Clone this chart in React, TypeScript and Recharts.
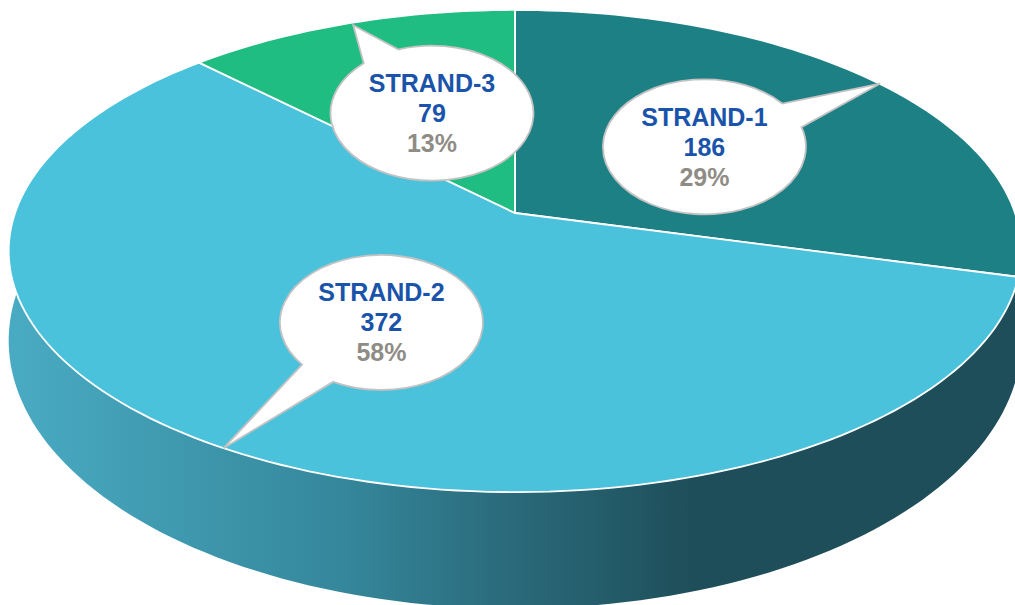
import { PieChart, Pie, Cell } from "recharts"

const strands = ["STRAND-1", "STRAND-2", "STRAND-3"]
const counts = [186, 372, 79]
const shownPercents = [29, 58, 13]
const sliceColors = ["#1d8085", "#4ac2dc", "#1fbd82"]

const rows = strands.map((name, i) => ({ name, value: counts[i], percent: shownPercents[i] }))

// the pie is tilted, so the centre of the circle is not the centre of the ellipse
const TILT = -0.1577
const TOP_DEPTH = 0.403
const WALL_DEPTH = 0.4286
const WALL_DROP = 85.3
const BUBBLE_RX = 101.5
const BUBBLE_RY = 67.5
const bubbleNudge = [[0, 2], [1.5, 0.5], [5.5, 1.5]]
const tipNudge = [[3, 1], [0, 0], [4, 2]]

const RAD = Math.PI / 180

const project = (cx: number, cy: number, r: number, angle: number, radial = 1, depth = TOP_DEPTH, drop = 0) => {
    const u = Math.cos(angle * RAD) * radial
    const v = -Math.sin(angle * RAD) * radial
    const w = 1 + TILT * v
    return { x: cx + (r * u) / w, y: (cy + drop + r * depth * v) / w }
}

const arcPoints = (start: number, end: number) => {
    const steps = Math.max(2, Math.ceil(Math.abs(end - start) / 1.5))
    const out: number[] = []
    for (let i = 0; i <= steps; i++) out.push(start + ((end - start) * i) / steps)
    return out
}

const TopSlice = (props: any) => {
    const { cx, cy, outerRadius, startAngle, endAngle, fill } = props
    const pts = arcPoints(startAngle, endAngle).map(a => project(cx, cy, outerRadius, a))
    const d = `M${cx},${cy}` + pts.map(p => `L${p.x.toFixed(1)},${p.y.toFixed(1)}`).join("") + "Z"
    return <path d={d} fill={fill} stroke="#ffffff" strokeWidth={1.8} strokeLinejoin="round" />
}

const WallSlice = (props: any) => {
    const { cx, cy, outerRadius, startAngle, endAngle } = props
    const angles = arcPoints(startAngle, endAngle)
    const upper = angles.map(a => project(cx, cy, outerRadius, a))
    const lower = angles.slice().reverse().map(a => project(cx, cy, outerRadius, a, 1, WALL_DEPTH, WALL_DROP))
    const d = [...upper, ...lower].map((p, i) => `${i ? "L" : "M"}${p.x.toFixed(1)},${p.y.toFixed(1)}`).join("") + "Z"
    return <path d={d} fill="url(#wallShade)" />
}

const Callout = (props: any) => {
    const { cx, cy, outerRadius, midAngle, index } = props
    const row = rows[index]
    const rim = project(cx, cy, outerRadius, midAngle)
    const tip = { x: rim.x + tipNudge[index][0], y: rim.y + tipNudge[index][1] }
    const mid = project(cx, cy, outerRadius, midAngle, 0.5)
    const bx = mid.x + bubbleNudge[index][0]
    const by = mid.y + bubbleNudge[index][1]
    const dir = Math.atan2((tip.y - by) / BUBBLE_RY, (tip.x - bx) / BUBBLE_RX)
    const spread = 11.5 * RAD
    const p1x = bx + BUBBLE_RX * Math.cos(dir + spread)
    const p1y = by + BUBBLE_RY * Math.sin(dir + spread)
    const p2x = bx + BUBBLE_RX * Math.cos(dir - spread)
    const p2y = by + BUBBLE_RY * Math.sin(dir - spread)
    const d = `M${p1x},${p1y}A${BUBBLE_RX},${BUBBLE_RY} 0 1 1 ${p2x},${p2y}L${tip.x},${tip.y}Z`
    const textProps = { x: bx, textAnchor: "middle" as const, fontFamily: "Liberation Sans", fontWeight: 700, fontSize: 25 }
    return (
        <g>
            <path d={d} fill="#ffffff" stroke="#c2c2c2" strokeWidth={1.8} />
            <text {...textProps} y={by - 21} fill="#1a54aa">{row.name}</text>
            <text {...textProps} y={by + 9} fill="#1a54aa">{row.value}</text>
            <text {...textProps} y={by + 39} fill="#8f8c86">{row.percent}%</text>
        </g>
    )
}

const App = () => {
    return (
        <div style={{ position: "absolute", left: 0, top: 0, width: 1015, height: 605, background: "#ffffff" }}>
            <PieChart width={1015} height={605} margin={{ top: 0, right: 0, bottom: 0, left: 0 }}>
                <defs>
                    <linearGradient id="wallShade" gradientUnits="userSpaceOnUse" x1="10" y1="0" x2="1015" y2="0">
                        <stop offset="0" stopColor="#49abc3" />
                        <stop offset="0.33" stopColor="#35879b" />
                        <stop offset="0.5" stopColor="#2a6a7b" />
                        <stop offset="0.68" stopColor="#1e4e59" />
                        <stop offset="1" stopColor="#1e4e59" />
                    </linearGradient>
                </defs>
                <Pie
                    data={rows}
                    dataKey="value"
                    cx={515}
                    cy={213}
                    innerRadius={0}
                    outerRadius={500}
                    startAngle={90}
                    endAngle={-270}
                    shape={WallSlice}
                    stroke="none"
                    labelLine={false}
                    isAnimationActive={false}
                />
                <Pie
                    data={rows}
                    dataKey="value"
                    cx={515}
                    cy={213}
                    innerRadius={0}
                    outerRadius={500}
                    startAngle={90}
                    endAngle={-270}
                    shape={TopSlice}
                    label={Callout}
                    labelLine={false}
                    isAnimationActive={false}
                >
                    {rows.map((row, i) => (
                        <Cell key={row.name} fill={sliceColors[i]} />
                    ))}
                </Pie>
            </PieChart>
        </div>
    )
}

export default App
